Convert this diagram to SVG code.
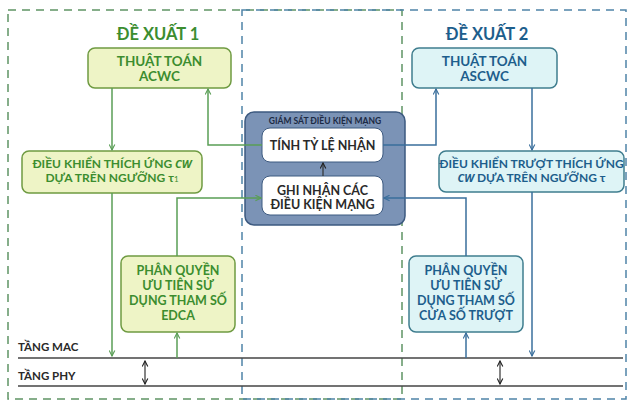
<svg xmlns="http://www.w3.org/2000/svg" width="628" height="401" viewBox="0 0 628 401">
<defs>
<style>
text{font-family:Lato,"Open Sans","Liberation Sans",sans-serif;font-weight:bold;text-anchor:middle}
.it{font-family:"Open Sans","Liberation Sans",sans-serif;font-style:italic;font-weight:bold}
.g{fill:#3c8d2f}
.b{fill:#1d5e8c}
.k{fill:#2a2a2a}
.gbox{fill:#eef4c6;stroke:#6f9b42;stroke-width:1.5}
.bbox{fill:#def4f6;stroke:#3f7d8e;stroke-width:1.5}
.wbox{fill:#ffffff;stroke:#3d5a80;stroke-width:1}
.gl{fill:none;stroke:#5a9e56;stroke-width:1.5}
.bl{fill:none;stroke:#3a6f9c;stroke-width:1.5}
.kl{fill:none;stroke:#333;stroke-width:1.2}
.layer{stroke:#444;stroke-width:1.5}
</style>
<marker id="ag" viewBox="0 0 10 10" refX="9" refY="5" markerWidth="7" markerHeight="7" orient="auto-start-reverse" markerUnits="userSpaceOnUse"><path d="M1,1 L9,5 L1,9" fill="none" stroke="#5a9e56" stroke-width="1.6"/></marker>
<marker id="ab" viewBox="0 0 10 10" refX="9" refY="5" markerWidth="7" markerHeight="7" orient="auto-start-reverse" markerUnits="userSpaceOnUse"><path d="M1,1 L9,5 L1,9" fill="none" stroke="#3a6f9c" stroke-width="1.6"/></marker>
<marker id="ak" viewBox="0 0 10 10" refX="9" refY="5" markerWidth="7" markerHeight="7" orient="auto-start-reverse" markerUnits="userSpaceOnUse"><path d="M1,1 L9,5 L1,9" fill="none" stroke="#222" stroke-width="1.6"/></marker>
</defs>

<g id="regions">
<rect x="8" y="10" width="394" height="389" fill="none" stroke="#5f9464" stroke-width="1.5" stroke-dasharray="8,6"/>
<rect x="242" y="10" width="384" height="389" fill="none" stroke="#4f84a8" stroke-width="1.5" stroke-dasharray="8,6"/>
</g>

<g id="layers">
<line class="layer" x1="18" y1="358" x2="623" y2="358"/>
<line class="layer" x1="18" y1="386" x2="623" y2="386"/>
<text class="k" x="18" y="351" font-size="11.5" style="text-anchor:start">TẦNG MAC</text>
<text class="k" x="18" y="380" font-size="11.5" style="text-anchor:start">TẦNG PHY</text>
</g>

<g id="title1"><text class="g" x="158" y="40" font-size="16.5">ĐỀ XUẤT 1</text></g>
<g id="title2"><text class="b" x="487" y="40" font-size="16.5">ĐỀ XUẤT 2</text></g>

<g id="acwc">
<rect class="gbox" x="88" y="48" width="143" height="40" rx="7"/>
<text class="g" x="159.5" y="66" font-size="13.5">THUẬT TOÁN</text>
<text class="g" x="159.5" y="81" font-size="13.5">ACWC</text>
</g>

<g id="ascwc">
<rect class="bbox" x="412" y="48" width="145" height="40" rx="7"/>
<text class="b" x="484.5" y="66" font-size="13.5">THUẬT TOÁN</text>
<text class="b" x="484.5" y="81" font-size="13.5">ASCWC</text>
</g>

<g id="adapt1">
<rect class="gbox" x="22" y="151" width="180" height="42" rx="7"/>
<text class="g" x="112" y="168" font-size="12">ĐIỀU KHIỂN THÍCH ỨNG <tspan class="it" font-size="11">CW</tspan></text>
<text class="g" x="112" y="182" font-size="12">DỰA TRÊN NGƯỠNG τ<tspan font-size="8" font-weight="normal">1</tspan></text>
</g>

<g id="adapt2">
<rect class="bbox" x="439" y="151" width="185" height="41" rx="7"/>
<text class="b" x="531.5" y="168" font-size="12">ĐIỀU KHIỂN TRƯỢT THÍCH ỨNG</text>
<text class="b" x="531.5" y="182" font-size="12"><tspan class="it" font-size="11">CW</tspan> DỰA TRÊN NGƯỠNG τ</text>
</g>

<g id="edca">
<rect class="gbox" x="121" y="256" width="114" height="76" rx="7"/>
<text class="g" x="178" y="275" font-size="12.5">PHÂN QUYỀN</text>
<text class="g" x="178" y="290" font-size="12.5">ƯU TIÊN SỬ</text>
<text class="g" x="178" y="305" font-size="12.5">DỤNG THAM SỐ</text>
<text class="g" x="178" y="320" font-size="12.5">EDCA</text>
</g>

<g id="sliding">
<rect class="bbox" x="409" y="256" width="114" height="76" rx="7"/>
<text class="b" x="466" y="275" font-size="12.5">PHÂN QUYỀN</text>
<text class="b" x="466" y="290" font-size="12.5">ƯU TIÊN SỬ</text>
<text class="b" x="466" y="305" font-size="12.5">DỤNG THAM SỐ</text>
<text class="b" x="466" y="320" font-size="12.5">CỬA SỐ TRƯỢT</text>
</g>

<g id="monitor">
<rect x="245" y="112" width="160" height="113" rx="9" fill="#7b93b6" stroke="#3d5a80" stroke-width="1.5"/>
<text x="325" y="124" font-size="8.5" fill="#1b2a44">GIÁM SÁT ĐIỀU KIỆN MẠNG</text>
</g>

<g id="rate">
<rect class="wbox" x="262" y="128" width="121" height="34" rx="8"/>
<text class="k" x="322.5" y="150" font-size="12.5">TÍNH TỶ LỆ NHẬN</text>
</g>

<g id="record">
<rect class="wbox" x="262" y="176" width="121" height="39" rx="8"/>
<text class="k" x="322.5" y="195" font-size="12.5">GHI NHẬN CÁC</text>
<text class="k" x="322.5" y="209" font-size="12.5">ĐIỀU KIỆN MẠNG</text>
</g>

<g id="connectors">
<path class="gl" d="M112,88 V150" marker-end="url(#ag)"/>
<path class="gl" d="M112,193 V356" marker-end="url(#ag)"/>
<path class="gl" d="M262,145 H208 V89" marker-end="url(#ag)"/>
<path class="gl" d="M177,256 V198 H261" marker-end="url(#ag)"/>
<path class="gl" d="M177,358 V333" marker-end="url(#ag)"/>
<path class="bl" d="M383,145 H436 V89" marker-end="url(#ab)"/>
<path class="bl" d="M532,88 V150" marker-end="url(#ab)"/>
<path class="bl" d="M532,192 V356" marker-end="url(#ab)"/>
<path class="bl" d="M466,256 V198 H384" marker-end="url(#ab)"/>
<path class="bl" d="M466,358 V333" marker-end="url(#ab)"/>
<path class="kl" d="M323,176 V163" marker-end="url(#ak)"/>
<path class="kl" d="M145,361 V384" marker-start="url(#ak)" marker-end="url(#ak)"/>
<path class="kl" d="M500,361 V384" marker-start="url(#ak)" marker-end="url(#ak)"/>
</g>
</svg>
